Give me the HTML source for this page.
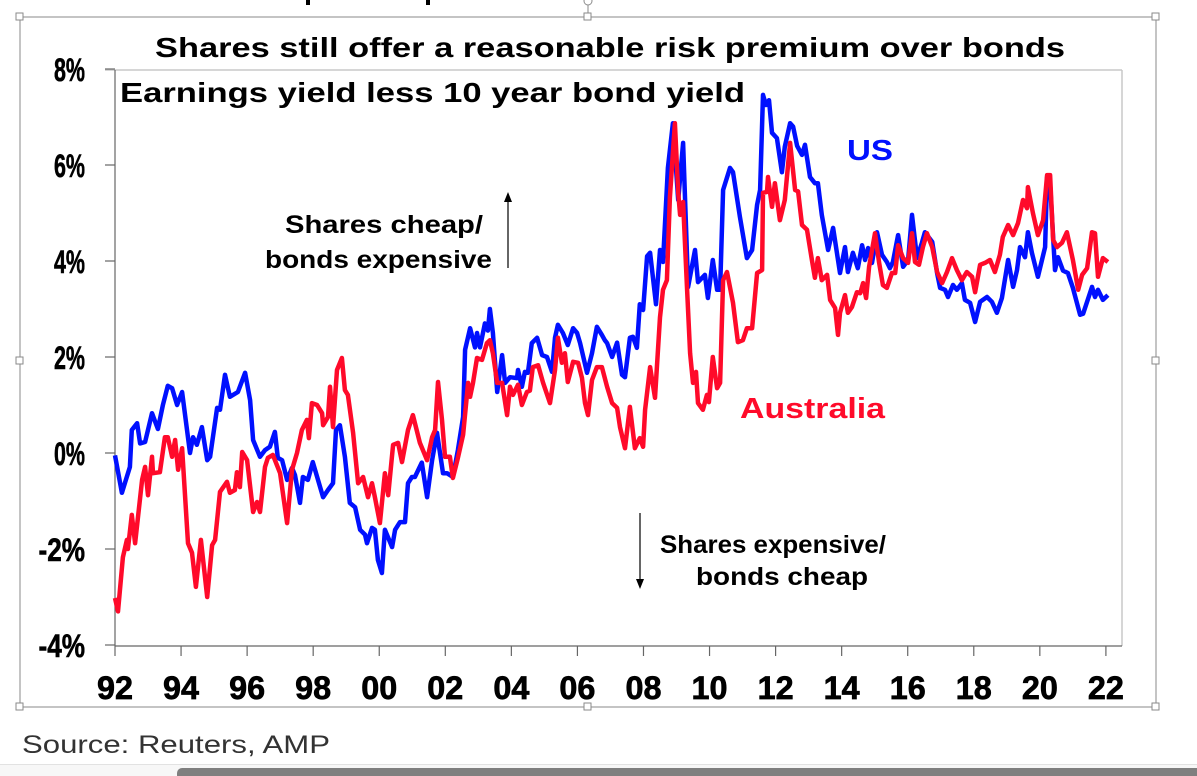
<!DOCTYPE html>
<html><head><meta charset="utf-8"><title>Earnings yield less bond yield</title>
<style>
html,body{margin:0;padding:0;background:#fff;width:1197px;height:776px;overflow:hidden;}
svg{display:block;}
text{font-family:"Liberation Sans",Arial,sans-serif;}
</style></head>
<body>
<svg id="chart" width="1197" height="776" viewBox="0 0 1197 776" xmlns="http://www.w3.org/2000/svg">
  <rect x="0" y="0" width="1197" height="776" fill="#fff"/>
  <rect x="306" y="0" width="4" height="5" fill="#000"/>
  <rect x="426" y="0" width="4" height="5" fill="#000"/>
  <rect x="20" y="17" width="1136" height="690" fill="none" stroke="#8a8a8a" stroke-width="1"/>
  <g fill="#fff" stroke="#8a8a8a" stroke-width="1">
    <rect x="16" y="13" width="7" height="7"/><rect x="584" y="13" width="7" height="7"/><rect x="1152" y="13" width="7" height="7"/>
    <rect x="16" y="357" width="7" height="7"/><rect x="1152" y="357" width="7" height="7"/>
    <rect x="16" y="703" width="7" height="7"/><rect x="584" y="703" width="7" height="7"/><rect x="1152" y="703" width="7" height="7"/>
    <line x1="588" y1="5" x2="588" y2="13"/><circle cx="588" cy="1" r="4"/>
  </g>
  <text x="610" y="57" text-anchor="middle" font-size="28" font-weight="bold" textLength="910" lengthAdjust="spacingAndGlyphs">Shares still offer a reasonable risk premium over bonds</text>
  <g id="plot"></g>
  <text x="120" y="102" font-size="28" font-weight="bold" textLength="625" lengthAdjust="spacingAndGlyphs">Earnings yield less 10 year bond yield</text>
  <text x="847" y="160" font-size="29" font-weight="bold" fill="#0010ff" textLength="46" lengthAdjust="spacingAndGlyphs">US</text>
  <text x="740" y="418" font-size="29" font-weight="bold" fill="#ff0a2a" textLength="145" lengthAdjust="spacingAndGlyphs">Australia</text>
  <text x="285" y="233" font-size="25" font-weight="bold" textLength="198" lengthAdjust="spacingAndGlyphs">Shares cheap/</text>
  <text x="265" y="268" font-size="25" font-weight="bold" textLength="227" lengthAdjust="spacingAndGlyphs">bonds expensive</text>
  <g><line x1="508" y1="268" x2="508" y2="200" stroke="#000" stroke-width="1.2"/><polygon points="504,202 512,202 508,192" fill="#000"/></g>
  <text x="660" y="553" font-size="25" font-weight="bold" textLength="226" lengthAdjust="spacingAndGlyphs">Shares expensive/</text>
  <text x="696" y="585" font-size="25" font-weight="bold" textLength="172" lengthAdjust="spacingAndGlyphs">bonds cheap</text>
  <g><line x1="640" y1="513" x2="640" y2="581" stroke="#000" stroke-width="1.2"/><polygon points="636,579 644,579 640,589" fill="#000"/></g>
  <text x="22" y="753" font-size="25" fill="#333" textLength="308" lengthAdjust="spacingAndGlyphs">Source: Reuters, AMP</text>
  <rect x="0" y="764" width="1197" height="12" fill="#f7f7f7"/>
  <line x1="0" y1="764.5" x2="1197" y2="764.5" stroke="#e2e2e2"/>
  <rect x="177" y="768" width="1030" height="12" rx="5" fill="#7f7f7f"/>
</svg>
<script>
const BASE_YEAR = 1992;
const yTickValues = [8, 6, 4, 2, 0, -2, -4];
const yTickLabels = ["8%", "6%", "4%", "2%", "0%", "-2%", "-4%"];
const xTickYears = [1992,1994,1996,1998,2000,2002,2004,2006,2008,2010,2012,2014,2016,2018,2020,2022];
const xTickLabels = ["92","94","96","98","00","02","04","06","08","10","12","14","16","18","20","22"];
// years since 1992
const usYears = [0.00,0.21,0.45,0.51,0.67,0.76,0.91,1.12,1.30,1.45,1.60,1.73,1.88,2.03,2.27,2.36,2.48,2.63,2.79,2.88,3.09,3.18,3.33,3.48,3.72,3.94,4.09,4.18,4.39,4.54,4.69,4.84,4.93,5.06,5.21,5.36,5.45,5.60,5.69,5.84,5.99,6.30,6.45,6.60,6.69,6.81,6.96,7.11,7.27,7.42,7.57,7.63,7.78,7.87,7.96,8.08,8.17,8.39,8.48,8.63,8.78,8.87,8.99,9.08,9.29,9.45,9.60,9.75,9.93,10.05,10.23,10.38,10.54,10.60,10.75,10.90,10.96,11.05,11.20,11.29,11.35,11.44,11.57,11.72,11.81,11.96,12.17,12.20,12.32,12.41,12.50,12.62,12.78,12.93,13.08,13.23,13.32,13.41,13.56,13.71,13.87,13.99,14.08,14.29,14.44,14.59,14.74,14.83,14.90,15.05,15.20,15.35,15.44,15.59,15.68,15.80,15.89,15.99,16.11,16.20,16.38,16.50,16.59,16.74,16.89,17.05,17.20,17.35,17.56,17.65,17.86,17.95,18.10,18.23,18.32,18.41,18.62,18.71,18.92,19.13,19.29,19.44,19.53,19.62,19.71,19.80,19.89,20.04,20.19,20.28,20.44,20.53,20.65,20.80,20.89,21.04,21.19,21.28,21.40,21.59,21.74,21.95,22.10,22.19,22.34,22.49,22.62,22.71,22.80,22.92,23.07,23.22,23.37,23.46,23.55,23.71,23.86,24.01,24.13,24.28,24.43,24.52,24.74,24.89,24.98,25.13,25.22,25.37,25.49,25.64,25.73,25.89,26.04,26.19,26.40,26.55,26.70,26.85,27.04,27.19,27.31,27.40,27.55,27.64,27.76,27.94,28.16,28.22,28.31,28.46,28.55,28.70,28.85,29.00,29.22,29.31,29.58,29.67,29.76,29.91,30.06];
const usValues = [-0.05,-0.83,-0.29,0.48,0.62,0.2,0.23,0.83,0.5,1.0,1.4,1.35,1.0,1.27,0,0.33,0.17,0.54,-0.15,-0.08,0.94,0.9,1.63,1.17,1.27,1.67,1.1,0.27,-0.08,0.06,0.13,0.44,-0.1,-0.15,-0.56,-0.31,-0.46,-1.04,-0.5,-0.56,-0.19,-0.92,-0.77,-0.63,0.48,0.58,-0.08,-1.04,-1.13,-1.6,-1.7,-1.88,-1.56,-1.6,-2.23,-2.5,-1.6,-1.96,-1.6,-1.44,-1.44,-0.63,-0.5,-0.5,-0.2,-0.92,-0.15,0.42,-0.42,-0.42,-0.5,0.06,0.75,2.15,2.6,2.2,2.5,2.2,2.7,2.55,3.0,2.5,1.27,2.04,1.46,1.58,1.56,1.73,1.38,1.69,1.67,2.29,2.4,2.04,2.0,1.69,2.4,2.67,2.5,2.25,2.6,2.5,2.29,1.67,2.08,2.63,2.46,2.35,2.29,2.0,2.3,1.63,1.58,2.4,2.42,2.19,3.1,2.98,4.1,4.17,3.1,4.23,3.98,5.94,6.87,5.27,6.46,3.46,4.23,3.56,3.71,3.23,4.02,3.4,3.4,5.48,5.94,5.85,4.92,4.06,4.23,5.17,5.48,7.46,7.25,7.35,6.67,6.56,5.85,6.38,6.87,6.8,6.4,6.21,6.42,5.75,5.62,5.62,4.96,4.23,4.69,3.75,4.29,3.77,4.17,3.85,4.33,4.02,4.27,3.96,4.6,4.13,3.98,3.85,3.98,4.54,3.88,4.02,4.96,4.06,4.38,4.6,4.4,3.75,3.44,3.4,3.25,3.5,3.4,3.54,3.19,3.13,2.73,3.15,3.25,3.15,2.92,3.23,4.02,3.46,3.81,4.29,4.08,4.6,4.17,3.67,4.29,5.75,5.62,3.81,4.08,3.8,3.75,3.44,2.88,2.9,3.46,3.25,3.4,3.19,3.29];
const auYears = [0.00,0.09,0.24,0.36,0.39,0.51,0.61,0.82,0.91,1.00,1.12,1.15,1.36,1.51,1.60,1.73,1.82,1.91,2.03,2.21,2.33,2.45,2.60,2.79,2.94,3.03,3.18,3.39,3.48,3.63,3.69,3.78,3.85,4.00,4.18,4.30,4.39,4.54,4.63,4.78,5.00,5.21,5.36,5.51,5.66,5.81,5.87,5.96,6.12,6.27,6.30,6.45,6.51,6.60,6.72,6.87,6.96,7.05,7.21,7.36,7.51,7.66,7.78,7.87,8.02,8.17,8.27,8.42,8.57,8.69,8.87,9.02,9.23,9.45,9.60,9.69,9.78,9.90,9.99,10.14,10.23,10.38,10.54,10.69,10.75,10.84,10.96,11.11,11.26,11.35,11.44,11.57,11.72,11.87,11.96,12.05,12.20,12.32,12.47,12.56,12.65,12.81,12.96,13.17,13.32,13.41,13.53,13.62,13.71,13.87,14.02,14.14,14.23,14.32,14.44,14.59,14.74,14.90,15.05,15.20,15.29,15.44,15.59,15.74,15.89,15.99,16.05,16.20,16.35,16.50,16.59,16.71,16.80,16.95,17.05,17.11,17.20,17.32,17.41,17.50,17.59,17.65,17.80,17.92,17.98,18.10,18.23,18.32,18.41,18.53,18.71,18.86,19.01,19.13,19.29,19.44,19.59,19.62,19.74,19.77,19.89,19.98,20.13,20.28,20.44,20.59,20.68,20.80,20.95,21.10,21.19,21.28,21.40,21.56,21.65,21.80,21.89,21.95,22.10,22.19,22.31,22.46,22.56,22.65,22.74,22.83,23.01,23.13,23.25,23.37,23.52,23.62,23.71,23.86,24.01,24.13,24.22,24.34,24.46,24.58,24.74,24.89,25.04,25.19,25.34,25.49,25.64,25.79,25.95,26.04,26.19,26.34,26.49,26.64,26.79,26.88,27.04,27.19,27.34,27.49,27.61,27.64,27.79,27.94,28.10,28.22,28.31,28.40,28.52,28.67,28.82,29.00,29.16,29.28,29.43,29.58,29.67,29.76,29.91,30.06];
const auValues = [-3.02,-3.3,-2.17,-1.81,-2.0,-1.29,-1.88,-0.56,-0.29,-0.88,-0.08,-0.42,-0.4,0.33,0.33,-0.08,0.27,-0.35,0.1,-1.88,-2.08,-2.79,-1.81,-3.0,-1.92,-1.81,-0.81,-0.6,-0.83,-0.77,-0.4,-0.71,0.02,-0.15,-1.23,-1.02,-1.23,-0.29,-0.1,-0.04,-0.42,-1.46,-0.35,0,0.48,0.69,0.31,1.04,1.0,0.83,0.58,0.75,1.38,0.54,1.73,1.98,1.31,1.21,0.42,-0.63,-0.5,-0.92,-0.63,-0.92,-1.46,-0.42,-0.88,0.17,0.21,-0.19,0.48,0.79,0.21,-0.15,0.33,0.48,1.48,0.69,-0.08,-0.08,-0.52,-0.1,0.38,1.46,1.17,1.46,1.98,1.94,2.29,2.35,2.08,1.46,1.46,0.79,1.38,1.21,1.42,1.0,1.27,1.3,1.79,1.83,1.46,1.04,1.73,2.4,1.88,2.08,1.48,1.9,1.88,1.56,1.04,0.79,1.52,1.79,1.79,1.38,1.04,0.94,0.54,0.1,0.96,0.1,0.31,0.13,0.9,1.79,1.15,2.83,3.4,3.6,5.33,6.87,5.42,4.96,5.23,3.4,2.08,1.46,1.69,1.04,0.9,1.21,1.06,2.0,1.35,1.46,3.6,3.77,3.13,2.31,2.35,2.6,2.6,3.75,3.81,5.42,5.44,5.75,5.13,5.62,4.85,5.27,6.46,5.48,5.45,4.75,4.65,4.02,3.65,4.06,3.6,3.71,3.19,3.02,2.46,2.92,3.29,2.92,3.04,3.35,3.33,3.54,3.23,3.88,4.58,3.98,3.5,3.44,3.75,3.75,4.33,4.06,3.96,4.58,3.98,3.92,4.29,4.58,4.29,3.77,3.54,3.77,4.06,3.81,3.6,3.77,3.67,3.35,3.92,3.96,4.02,3.77,4.13,4.5,4.75,4.54,4.79,5.27,5.1,5.54,5.0,4.54,4.85,5.79,5.79,4.44,4.29,4.38,4.6,4.02,3.4,3.71,3.85,4.6,4.58,3.67,4.06,3.98];

const NS = "http://www.w3.org/2000/svg";
const X0 = 115, PX_PER_YEAR = 33.03, Y0 = 453, PX_PER_PCT = 48;
const PLOT_RIGHT = 1122, PLOT_TOP = 70, PLOT_BOTTOM = 646;
function xScale(year){ return X0 + (year - BASE_YEAR) * PX_PER_YEAR; }
function yScale(v){ return Y0 - v * PX_PER_PCT; }
function mk(tag, attrs){ const e = document.createElementNS(NS, tag); for (const k in attrs) e.setAttribute(k, attrs[k]); return e; }
const plot = document.getElementById('plot');

const topLine = mk('line', {x1:105, y1:PLOT_TOP, x2:PLOT_RIGHT, y2:PLOT_TOP, stroke:'#c8c8c8', 'stroke-width':1.5});


plot.appendChild(topLine);
const rightLine = mk('line', {x1:PLOT_RIGHT, y1:PLOT_TOP, x2:PLOT_RIGHT, y2:PLOT_BOTTOM, stroke:'#c8c8c8', 'stroke-width':1.5});


plot.appendChild(rightLine);
const yAxis = mk('line', {x1:X0, y1:PLOT_TOP, x2:X0, y2:PLOT_BOTTOM, stroke:'#666', 'stroke-width':1.2});


plot.appendChild(yAxis);
const xAxis = mk('line', {x1:X0, y1:PLOT_BOTTOM, x2:PLOT_RIGHT, y2:PLOT_BOTTOM, stroke:'#666', 'stroke-width':1.2});


plot.appendChild(xAxis);

yTickValues.forEach((v, i) => {
  const y = yScale(v);
  const t = mk('line', {x1:X0-10, y1:y, x2:X0, y2:y, stroke:'#666', 'stroke-width':1.2});
  
  
  plot.appendChild(t);
  const lbl = mk('text', {x:85, y:y+12, 'text-anchor':'end', 'font-size':32, 'font-weight':'bold', stroke:'#000', 'stroke-width':0.6, textLength: yTickLabels[i].length*15.5, lengthAdjust:'spacingAndGlyphs'});
  lbl.textContent = yTickLabels[i];
  
  
  plot.appendChild(lbl);
});
xTickYears.forEach((yr, i) => {
  const x = xScale(yr);
  const t = mk('line', {x1:x, y1:PLOT_BOTTOM, x2:x, y2:PLOT_BOTTOM+10, stroke:'#666', 'stroke-width':1.2});
  
  
  plot.appendChild(t);
  const lbl = mk('text', {x:x, y:699, 'text-anchor':'middle', 'font-size':32, 'font-weight':'bold', stroke:'#000', 'stroke-width':0.7, textLength:36, lengthAdjust:'spacingAndGlyphs'});
  lbl.textContent = xTickLabels[i];
  
  
  plot.appendChild(lbl);
});

function seriesPath(years, vals){
  return years.map((t, i) => (i ? 'L' : 'M') + xScale(BASE_YEAR + t).toFixed(1) + ',' + yScale(vals[i]).toFixed(1)).join(' ');
}
const usLine = mk('path', {d: seriesPath(usYears, usValues), fill:'none', stroke:'#0010ff', 'stroke-width':4.5, 'stroke-linejoin':'round'});


plot.appendChild(usLine);
const auLine = mk('path', {d: seriesPath(auYears, auValues), fill:'none', stroke:'#ff0a2a', 'stroke-width':4.5, 'stroke-linejoin':'round'});


plot.appendChild(auLine);
</script>
</body></html>
